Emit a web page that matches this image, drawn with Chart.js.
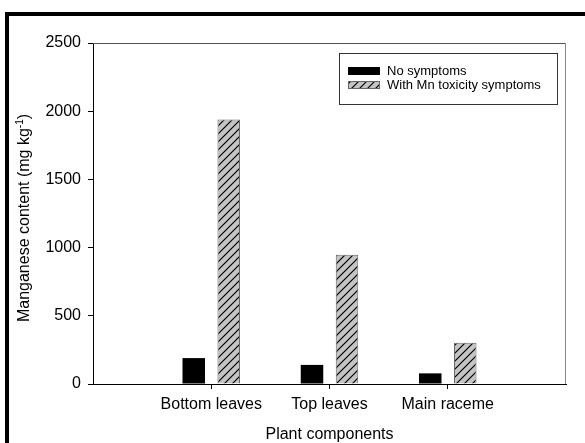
<!DOCTYPE html>
<html>
<head>
<meta charset="utf-8">
<script src="https://cdn.jsdelivr.net/npm/chart.js@4.4.1/dist/chart.umd.min.js"></script>
<style>
  html, body { margin: 0; padding: 0; background: #fff; overflow: hidden; }
  #wrap { position: relative; width: 585px; height: 443px; }
  #frame { position: absolute; left: 5px; top: 12px; width: 700px; height: 600px;
           border-left: 4px solid #000; border-top: 4px solid #000; box-sizing: border-box; }
  canvas { position: absolute; left: 0; top: 0; }
</style>
</head>
<body>
<div id="wrap">
  <div id="frame"></div>
  <canvas id="chart" width="585" height="443"></canvas>
</div>
<script>
// Manganese content by plant component
const categories = ['Bottom leaves', 'Top leaves', 'Main raceme'];
const noSymptoms = [190, 140, 78];
const withSymptoms = [1940, 948, 303];
const seriesNames = ['No symptoms', 'With Mn toxicity symptoms'];
const yTicks = [0, 500, 1000, 1500, 2000, 2500];

const FONT = '"Liberation Sans", Arial, Helvetica, sans-serif';

// diagonal hatch fill: grey ground with black "/" strokes
function makeHatch() {
  const s = 8;
  const c = document.createElement('canvas');
  c.width = s; c.height = s;
  const g = c.getContext('2d');
  g.fillStyle = '#c4c4c4';
  g.fillRect(0, 0, s, s);
  g.strokeStyle = '#000';
  g.lineWidth = 1.2;
  g.beginPath();
  g.moveTo(-1, s + 1); g.lineTo(s + 1, -1);
  g.moveTo(-1, 1); g.lineTo(1, -1);
  g.moveTo(s - 1, s + 1); g.lineTo(s + 1, s - 1);
  g.stroke();
  return document.getElementById('chart').getContext('2d').createPattern(c, 'repeat');
}
const hatch = makeHatch();

// empty slots at both ends so the groups sit on interior ticks
const labels = [''].concat(categories, ['']);
const pad = arr => [null].concat(arr, [null]);

const framePlugin = {
  id: 'frameAndText',
  afterDraw(chart) {
    const { ctx, chartArea: a } = chart;
    ctx.save();
    // top and right edges of the plot box
    ctx.lineWidth = 1;
    ctx.strokeStyle = '#555';
    ctx.beginPath();
    ctx.moveTo(a.left, a.top + 0.5); ctx.lineTo(a.right, a.top + 0.5);
    ctx.stroke();
    ctx.strokeStyle = '#888';
    ctx.beginPath();
    ctx.moveTo(a.right - 0.5, a.top); ctx.lineTo(a.right - 0.5, a.bottom);
    ctx.stroke();

    // x axis title
    ctx.fillStyle = '#000';
    ctx.font = '16px ' + FONT;
    ctx.textAlign = 'center';
    ctx.textBaseline = 'middle';
    ctx.fillText('Plant components', (a.left + a.right) / 2, 435);

    // y axis title with superscript
    const main = 'Manganese content (mg kg';
    const sup = '-1';
    const tail = ')';
    ctx.font = '16px ' + FONT;
    const wMain = ctx.measureText(main).width;
    const wTail = ctx.measureText(tail).width;
    ctx.font = '10px ' + FONT;
    const wSup = ctx.measureText(sup).width;
    const total = wMain + wSup + wTail;
    ctx.translate(25, 218);
    ctx.rotate(-Math.PI / 2);
    ctx.textAlign = 'left';
    ctx.textBaseline = 'middle';
    let x = -total / 2;
    ctx.font = '16px ' + FONT;
    ctx.fillText(main, x, 0);
    x += wMain;
    ctx.font = '10px ' + FONT;
    ctx.fillText(sup, x, -5);
    x += wSup;
    ctx.font = '16px ' + FONT;
    ctx.fillText(tail, x, 0);
    ctx.restore();

    // legend box inside the plot
    ctx.save();
    const lx = 339, ly = 53, lw = 218, lh = 51;
    ctx.strokeStyle = '#333';
    ctx.lineWidth = 1;
    ctx.strokeRect(lx + 0.5, ly + 0.5, lw, lh);
    ctx.font = '13px ' + FONT;
    ctx.textBaseline = 'middle';
    ctx.textAlign = 'left';
    chart.data.datasets.forEach((ds, i) => {
      const sy = 67 + i * 14;
      ctx.fillStyle = ds.backgroundColor;
      ctx.fillRect(348, sy, 32, 8);
      if (ds.borderWidth) {
        ctx.strokeStyle = ds.borderColor;
        ctx.strokeRect(348.5, sy + 0.5, 31, 7);
      }
      ctx.fillStyle = '#000';
      ctx.fillText(ds.label, 387, sy + 4.5);
    });
    ctx.restore();
  }
};

new Chart(document.getElementById('chart'), {
  type: 'bar',
  data: {
    labels: labels,
    datasets: [
      {
        label: seriesNames[0],
        data: pad(noSymptoms),
        backgroundColor: '#000',
        borderWidth: 0
      },
      {
        label: seriesNames[1],
        data: pad(withSymptoms),
        backgroundColor: hatch,
        borderColor: '#666',
        borderWidth: 1
      }
    ]
  },
  options: {
    responsive: false,
    animation: false,
    events: [],
    categoryPercentage: 0.592,
    barPercentage: 0.643,
    layout: { padding: { left: 0, top: 43, right: 19, bottom: 0 } },
    plugins: {
      legend: { display: false },
      tooltip: { enabled: false },
      title: { display: false }
    },
    scales: {
      x: {
        type: 'category',
        offset: false,
        afterFit: s => { s.height = 59; },
        border: { display: true, color: '#000', width: 1 },
        grid: {
          offset: false,
          drawOnChartArea: false,
          drawTicks: true,
          tickLength: 5,
          tickColor: ctx => (ctx.index === 0 || ctx.index === labels.length - 1) ? 'rgba(0,0,0,0)' : '#000'
        },
        ticks: {
          color: '#000',
          font: { family: FONT, size: 16 },
          padding: 6,
          maxRotation: 0,
          autoSkip: false
        }
      },
      y: {
        min: 0,
        max: 2500,
        afterFit: s => { s.width = 93; },
        afterBuildTicks: s => { s.ticks = yTicks.map(v => ({ value: v })); },
        border: { display: true, color: '#000', width: 1 },
        grid: {
          drawOnChartArea: false,
          drawTicks: true,
          tickLength: 5,
          tickColor: '#000'
        },
        ticks: {
          color: '#000',
          font: { family: FONT, size: 16 },
          padding: 7,
          callback: v => String(v)
        }
      }
    }
  },
  plugins: [framePlugin]
});
</script>
</body>
</html>
